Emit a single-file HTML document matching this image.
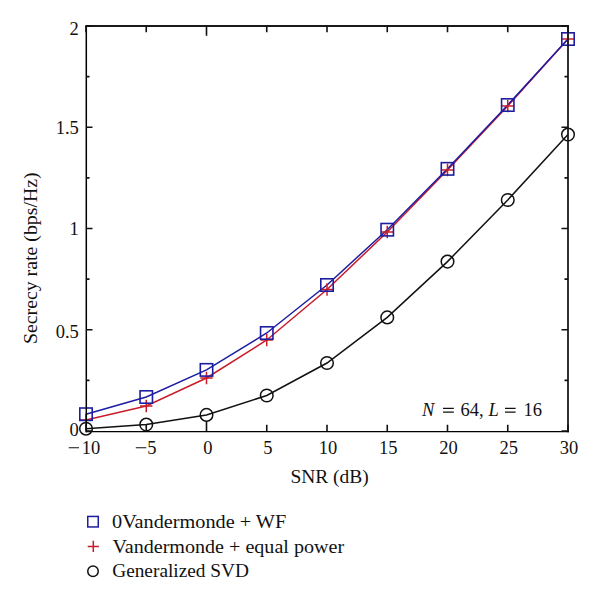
<!DOCTYPE html>
<html><head><meta charset="utf-8"><style>
html,body{margin:0;padding:0;background:#fff;}
svg{display:block;}
text{font-family:"Liberation Serif",serif;font-size:18.5px;fill:#111;}
</style></head><body>
<svg width="600" height="600" viewBox="0 0 600 600">
<rect width="600" height="600" fill="#fff"/>
<path d="M86.00 428.70 L146.25 424.60 L206.50 414.90 L266.75 395.50 L327.00 363.00 L387.25 317.40 L447.50 261.60 L507.75 200.00 L568.00 134.60" stroke="#111" stroke-width="1.5" fill="none"/>
<path d="M86.00 420.00 L146.25 406.00 L206.50 378.00 L266.75 340.00 L327.00 289.50 L387.25 232.00 L447.50 170.00 L507.75 106.00 L568.00 39.00" stroke="#c81c2a" stroke-width="1.5" fill="none"/>
<path d="M86.00 414.20 L146.25 397.00 L206.50 369.90 L266.75 333.00 L327.00 285.00 L387.25 229.70 L447.50 168.85 L507.75 105.00 L568.00 39.00" stroke="#1d1da2" stroke-width="1.5" fill="none"/>
<circle cx="86.00" cy="428.70" r="6.3" fill="none" stroke="#111" stroke-width="1.5"/>
<circle cx="146.25" cy="424.60" r="6.3" fill="none" stroke="#111" stroke-width="1.5"/>
<circle cx="206.50" cy="414.90" r="6.3" fill="none" stroke="#111" stroke-width="1.5"/>
<circle cx="266.75" cy="395.50" r="6.3" fill="none" stroke="#111" stroke-width="1.5"/>
<circle cx="327.00" cy="363.00" r="6.3" fill="none" stroke="#111" stroke-width="1.5"/>
<circle cx="387.25" cy="317.40" r="6.3" fill="none" stroke="#111" stroke-width="1.5"/>
<circle cx="447.50" cy="261.60" r="6.3" fill="none" stroke="#111" stroke-width="1.5"/>
<circle cx="507.75" cy="200.00" r="6.3" fill="none" stroke="#111" stroke-width="1.5"/>
<circle cx="568.00" cy="134.60" r="6.3" fill="none" stroke="#111" stroke-width="1.5"/>
<path d="M79.80 420.00h12.4M86.00 413.80v12.4" stroke="#c81c2a" stroke-width="1.5"/>
<path d="M140.05 406.00h12.4M146.25 399.80v12.4" stroke="#c81c2a" stroke-width="1.5"/>
<path d="M200.30 378.00h12.4M206.50 371.80v12.4" stroke="#c81c2a" stroke-width="1.5"/>
<path d="M260.55 340.00h12.4M266.75 333.80v12.4" stroke="#c81c2a" stroke-width="1.5"/>
<path d="M320.80 289.50h12.4M327.00 283.30v12.4" stroke="#c81c2a" stroke-width="1.5"/>
<path d="M381.05 232.00h12.4M387.25 225.80v12.4" stroke="#c81c2a" stroke-width="1.5"/>
<path d="M441.30 170.00h12.4M447.50 163.80v12.4" stroke="#c81c2a" stroke-width="1.5"/>
<path d="M501.55 106.00h12.4M507.75 99.80v12.4" stroke="#c81c2a" stroke-width="1.5"/>
<path d="M561.80 39.00h12.4M568.00 32.80v12.4" stroke="#c81c2a" stroke-width="1.5"/>
<rect x="79.80" y="408.00" width="12.4" height="12.4" fill="none" stroke="#1d1da2" stroke-width="1.6"/>
<rect x="140.05" y="390.80" width="12.4" height="12.4" fill="none" stroke="#1d1da2" stroke-width="1.6"/>
<rect x="200.30" y="363.70" width="12.4" height="12.4" fill="none" stroke="#1d1da2" stroke-width="1.6"/>
<rect x="260.55" y="326.80" width="12.4" height="12.4" fill="none" stroke="#1d1da2" stroke-width="1.6"/>
<rect x="320.80" y="278.80" width="12.4" height="12.4" fill="none" stroke="#1d1da2" stroke-width="1.6"/>
<rect x="381.05" y="223.50" width="12.4" height="12.4" fill="none" stroke="#1d1da2" stroke-width="1.6"/>
<rect x="441.30" y="162.65" width="12.4" height="12.4" fill="none" stroke="#1d1da2" stroke-width="1.6"/>
<rect x="501.55" y="98.80" width="12.4" height="12.4" fill="none" stroke="#1d1da2" stroke-width="1.6"/>
<rect x="561.80" y="32.80" width="12.4" height="12.4" fill="none" stroke="#1d1da2" stroke-width="1.6"/>
<path d="M86.3 25.1V432.3" stroke="#000" stroke-width="1.5"/>
<path d="M85.6 26H568.9" stroke="#1a1a1a" stroke-width="1.8"/>
<path d="M568 25.1V432.3" stroke="#1a1a1a" stroke-width="1.8"/>
<path d="M85.6 431.6H568.9" stroke="#000" stroke-width="1.4"/>
<path d="M86.00 431.0v-6.3M86.00 26.0v6.3M146.25 431.0v-6.3M146.25 26.0v6.3M206.50 431.0v-9.8M206.50 26.0v9.8M266.75 431.0v-6.3M266.75 26.0v6.3M327.00 431.0v-6.3M327.00 26.0v6.3M387.25 431.0v-6.3M387.25 26.0v6.3M447.50 431.0v-6.3M447.50 26.0v6.3M507.75 431.0v-6.3M507.75 26.0v6.3M568.00 431.0v-6.3M568.00 26.0v6.3M86.0 431.00h6.5M568.0 431.00h-6.5M86.0 380.38h3.5M568.0 380.38h-3.5M86.0 329.75h6.5M568.0 329.75h-6.5M86.0 279.12h3.5M568.0 279.12h-3.5M86.0 228.50h6.5M568.0 228.50h-6.5M86.0 177.88h3.5M568.0 177.88h-3.5M86.0 127.25h6.5M568.0 127.25h-6.5M86.0 76.62h3.5M568.0 76.62h-3.5M86.0 26.00h6.5M568.0 26.00h-6.5" stroke="#111" stroke-width="1.6" fill="none"/>
<text x="81.8" y="453.6">10</text>
<text x="147.3" y="453.6">5</text>
<path d="M68.8 447.8H79M135.8 447.8H146.3" stroke="#111" stroke-width="1.1"/>
<text x="203.3" y="453.6">0</text>
<text x="267.75" y="453.6" text-anchor="middle">5</text>
<text x="328.00" y="453.6" text-anchor="middle">10</text>
<text x="388.25" y="453.6" text-anchor="middle">15</text>
<text x="448.50" y="453.6" text-anchor="middle">20</text>
<text x="508.75" y="453.6" text-anchor="middle">25</text>
<text x="569.00" y="453.6" text-anchor="middle">30</text>
<text x="78.8" y="436.3" text-anchor="end">0</text>
<text x="78.8" y="337.5" text-anchor="end">0.5</text>
<text x="78.8" y="235.4" text-anchor="end">1</text>
<text x="78.8" y="133.7" text-anchor="end">1.5</text>
<text x="78.8" y="34.5" text-anchor="end">2</text>
<text x="290.4" y="482.5" textLength="78.4" lengthAdjust="spacingAndGlyphs">SNR (dB)</text>
<text transform="translate(37.2 344.1) rotate(-90)" textLength="171.8" lengthAdjust="spacingAndGlyphs">Secrecy rate (bps/Hz)</text>
<text x="422" y="415.8" font-style="italic">N</text><text x="460.5" y="415.6">64,</text><text x="488.6" y="415.8" font-style="italic">L</text><text x="523.4" y="415.6">16</text><path d="M443 408.4H453.8M443 412.2H453.8M505 408.4H515.6M505 412.2H515.6" stroke="#111" stroke-width="1.25"/>
<rect x="87.75" y="516.45" width="10.5" height="10.5" fill="none" stroke="#1d1da2" stroke-width="1.5"/>
<path d="M87.7 546.5h11.2M93.3 540.7v11.4" stroke="#c81c2a" stroke-width="1.5"/>
<circle cx="93" cy="571.2" r="5.25" fill="none" stroke="#111" stroke-width="1.5"/>
<text x="112" y="527.6" textLength="174.2" lengthAdjust="spacingAndGlyphs">0Vandermonde + WF</text>
<text x="112.5" y="552.9" textLength="231.6" lengthAdjust="spacingAndGlyphs">Vandermonde + equal power</text>
<text x="112.2" y="577.2" textLength="136.8" lengthAdjust="spacingAndGlyphs">Generalized SVD</text>
</svg>
</body></html>
